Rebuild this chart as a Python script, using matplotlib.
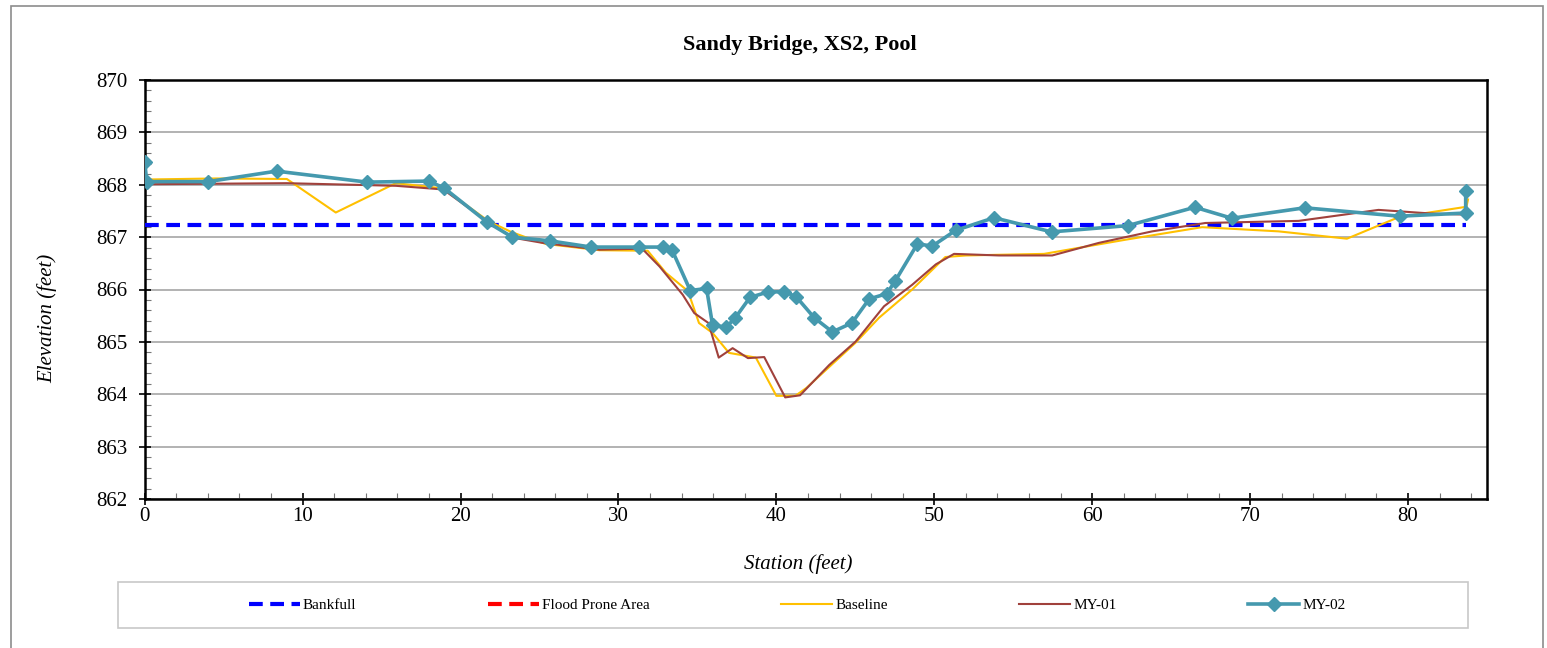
import numpy as np
import matplotlib.pyplot as plt
from matplotlib.patches import Rectangle
from matplotlib.ticker import MultipleLocator

## Data
bankfull_x = [0, 83.65]
bankfull_y = [867.23, 867.23]

base_x = [0, 0.1, 4.5, 9.0, 12.1, 15.9, 18.9, 21.8, 23.2, 24.2, 25.4, 28.8, 31.85,
          33.0, 34.4, 35.1, 35.96, 37.0, 38.7, 40.0, 41.2, 41.9, 45.0, 46.5, 48.6,
          50.7, 52.0, 56.95, 62.1, 66.96, 71.8, 76.13, 79.4, 83.7, 83.8]
base_y = [868.27, 868.10, 868.12, 868.11, 867.47, 868.03, 867.93, 867.30, 867.10,
          866.99, 866.87, 866.75, 866.74, 866.32, 865.97, 865.36, 865.17, 864.79,
          864.70, 863.97, 863.97, 864.12, 864.98, 865.46, 866.00, 866.62, 866.65,
          866.68, 866.95, 867.19, 867.11, 866.97, 867.38, 867.58, 867.72]

my01_x = [0, 9.0, 15.9, 18.9, 21.7, 23.3, 25.2, 28.8, 31.5, 32.6, 34.07, 34.8, 35.7,
          36.35, 37.23, 38.2, 39.23, 40.56, 41.5, 43.35, 45.03, 46.82, 48.6, 50.1,
          51.25, 54.1, 57.47, 60.42, 63.8, 67.17, 73.07, 78.13, 81.5, 83.62]
my01_y = [868.01, 868.03, 867.98, 867.91, 867.30, 866.99, 866.89, 866.76, 866.78,
          866.44, 865.90, 865.55, 865.36, 864.70, 864.88, 864.69, 864.71, 863.94,
          863.98, 864.56, 865.01, 865.68, 866.09, 866.48, 866.68, 866.65, 866.65,
          866.89, 867.11, 867.27, 867.31, 867.52, 867.45, 867.43]

my02_x = [0, 0.13, 4.02, 8.35, 14.08, 17.98, 18.95, 21.67, 23.28, 25.64, 28.27, 31.33,
          32.8, 33.4, 34.55, 35.58, 35.96, 36.82, 37.4, 38.33, 39.44, 40.5, 41.26,
          42.4, 43.55, 44.78, 45.88, 46.99, 47.52, 48.93, 49.88, 51.36, 53.78, 57.43,
          62.26, 66.5, 68.85, 73.45, 79.46, 83.65, 83.65]
my02_y = [868.44, 868.06, 868.06, 868.26, 868.05, 868.07, 867.94, 867.29, 867.00,
          866.93, 866.81, 866.81, 866.81, 866.75, 865.98, 866.02, 865.32, 865.28,
          865.46, 865.85, 865.95, 865.96, 865.86, 865.46, 865.19, 865.36, 865.82,
          865.92, 866.16, 866.87, 866.83, 867.13, 867.37, 867.10, 867.22, 867.57,
          867.36, 867.56, 867.40, 867.46, 867.88]

plt.rcParams['font.family'] = ['Liberation Serif', 'DejaVu Serif']

W, H = 1547, 648
fig = plt.figure(figsize=(W / 100, H / 100), dpi=100)
fig.patches.append(Rectangle((11 / W, -0.05), (1543 - 11) / W, 1.05 - 6 / H,
                             transform=fig.transFigure, fill=False,
                             edgecolor='#8c8c8c', lw=1.2))

ax = fig.add_axes([144.7 / W, 1 - 499 / H, (1487 - 144.7) / W, (499 - 80) / H])

ax.plot(bankfull_x, bankfull_y, color='#0000ff', lw=3, dashes=(3.3, 1.8),
        label='Bankfull', zorder=3)
ax.plot([], [], color='#ff0000', lw=3, dashes=(3.3, 1.8), label='Flood Prone Area')
ax.plot(base_x, base_y, color='#ffc000', lw=1.5, label='Baseline', zorder=4)
ax.plot(my01_x, my01_y, color='#a0413c', lw=1.5, label='MY-01', zorder=5)
ax.plot(my02_x, my02_y, color='#4599ae', lw=2.6, marker='D', markersize=7.5,
        label='MY-02', zorder=6)

ax.set_xlim(0, 85)
ax.set_ylim(862, 870)
ax.xaxis.set_major_locator(MultipleLocator(10))
ax.xaxis.set_minor_locator(MultipleLocator(2))
ax.yaxis.set_major_locator(MultipleLocator(1))
ax.yaxis.set_minor_locator(MultipleLocator(0.2))
ax.tick_params(which='major', direction='inout', length=9, width=1.2, labelsize=15)
ax.tick_params(axis='x', which='major', pad=1.5)
ax.tick_params(axis='y', which='major', pad=8)
ax.tick_params(which='minor', direction='in', length=4, width=0.8, color='#777777')
ax.grid(axis='y', which='major', color='#a6a6a6', lw=1.2)
ax.set_axisbelow(True)
for s in ax.spines.values():
    s.set_linewidth(1.8)
    s.set_color('black')

ax.set_xlabel('Station (feet)', fontsize=15, style='italic')
ax.set_ylabel('Elevation (feet)', fontsize=15, style='italic')
ax.xaxis.set_label_coords((798 - 144.7) / 1342.3, (499 - 554) / 419)
ax.yaxis.set_label_coords((57 - 144.7) / 1342.3, (499 - 318) / 419)
fig.text(800 / W, 1 - 45 / H, 'Sandy Bridge, XS2, Pool', ha='center', va='center',
         fontsize=16, fontweight='bold')

## legend box
fig.patches.append(Rectangle((118 / W, 1 - 628 / H), (1468 - 118) / W, 46 / H,
                             transform=fig.transFigure, fill=False,
                             edgecolor='#c8c8c8', lw=1.2))
h, l = ax.get_legend_handles_labels()
fig.legend(h, l, loc='center', bbox_to_anchor=(797 / W, 1 - 605 / H), ncol=5,
           frameon=False, fontsize=11, handlelength=3.35, handletextpad=0.2,
           columnspacing=8.6)

fig.savefig('out.png', dpi=100)
